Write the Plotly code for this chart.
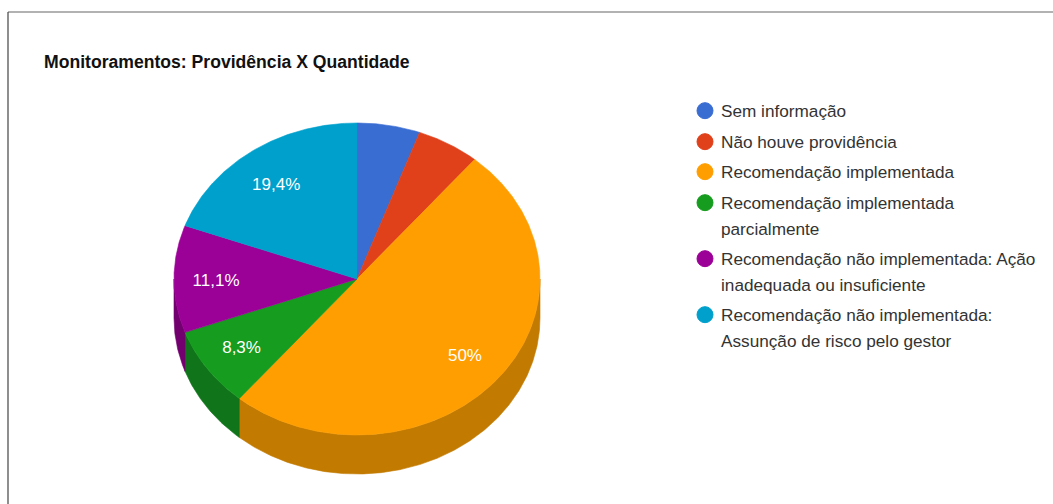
import math
import plotly.graph_objects as go

# --- data ---
categories = [
    "Sem informação",
    "Não houve providência",
    "Recomendação implementada",
    "Recomendação implementada",
    "Recomendação não implementada: Ação",
    "Recomendação não implementada:",
]
category_wraps = ["", "", "", "parcialmente", "inadequada ou insuficiente", "Assunção de risco pelo gestor"]
values = [2, 2, 18, 3, 4, 7]
face_colors = ["#3a6dd2", "#e0401a", "#ff9e00", "#169c1e", "#9b0097", "#00a0cc"]
side_colors = ["#2a4f98", "#a22e12", "#c27a00", "#10751a", "#72006e", "#007494"]
title_text = "Monitoramentos: Providência X Quantidade"

# --- layout of the 3D pie (pixels of the 1053x504 page) ---
W, H = 1053, 504
CX, CY, RX, RY, DEPTH = 357, 279, 183, 156, 39
LABEL_FX, LABEL_FY, LABEL_DY = 0.77, 0.75, 3
MIN_LABEL_SHARE = 0.06
LEGEND_TOPS = [93, 124, 154, 185, 241, 297]
LEGEND_ROW_CENTRE = 18
LEGEND_WRAP_GAP = 26
LEGEND_X = 681
LEGEND_TEXT_X = 720
FONT = "Liberation Sans, Arial, sans-serif"
LEGEND_FONT = dict(family=FONT, size=17.2, color="#333333")

total = sum(values)


def point(deg, dy=0.0):
    a = math.radians(deg)
    return CX + RX * math.sin(a), CY - RY * math.cos(a) + dy


def arc(a0, a1, dy=0.0):
    n = max(2, int(abs(a1 - a0) * 2) + 1)
    return [point(a0 + (a1 - a0) * i / (n - 1), dy) for i in range(n)]


fig = go.Figure()
spans = []
acc = 0.0
for v in values:
    spans.append((acc / total * 360, (acc + v) / total * 360))
    acc += v

# sides (only the front half of the cylinder is visible)
for (a0, a1), col in zip(spans, side_colors):
    lo, hi = max(a0, 90), min(a1, 270)
    if lo >= hi:
        continue
    pts = arc(lo, hi) + arc(hi, lo, DEPTH)
    pts.append(pts[0])
    fig.add_trace(go.Scatter(x=[p[0] for p in pts], y=[p[1] for p in pts], mode="lines",
                             fill="toself", fillcolor=col, line=dict(color=col, width=0.6),
                             showlegend=False, hoverinfo="skip"))

# top faces
for (a0, a1), col, name, wrap in zip(spans, face_colors, categories, category_wraps):
    pts = [(CX, CY)] + arc(a0, a1) + [(CX, CY)]
    fig.add_trace(go.Scatter(x=[p[0] for p in pts], y=[p[1] for p in pts], mode="lines",
                             fill="toself", fillcolor=col, line=dict(color=col, width=0.6),
                             showlegend=False, name=f"{name} {wrap}".strip(), hoverinfo="name"))

# percentage labels
lx, ly, lt = [], [], []
for (a0, a1), v in zip(spans, values):
    share = v / total
    if share < MIN_LABEL_SHARE:
        continue
    mid = math.radians((a0 + a1) / 2)
    lx.append(CX + LABEL_FX * RX * math.sin(mid))
    ly.append(CY + LABEL_DY - LABEL_FY * RY * math.cos(mid))
    s = f"{100 * share:.1f}"
    s = s[:-2] if s.endswith(".0") else s
    lt.append(s.replace(".", ",") + "%")
fig.add_trace(go.Scatter(x=lx, y=ly, text=lt, mode="text", showlegend=False, hoverinfo="skip",
                         textposition="middle center",
                         textfont=dict(family=FONT, size=17, color="white")))

# legend: one real legend box per entry, so each can sit on its own row;
# the wrapped second line is set as text under the entry, level with the marker's first line
layout_legends = {}
wrap_notes = []
for i, (name, wrap, col, top) in enumerate(zip(categories, category_wraps, face_colors, LEGEND_TOPS)):
    key = "legend" if i == 0 else f"legend{i + 1}"
    fig.add_trace(go.Scatter(x=[None], y=[None], mode="markers", name=name, legend=key,
                             marker=dict(color=col, size=16, symbol="circle",
                                         line=dict(color=col, width=1))))
    layout_legends[key] = dict(x=LEGEND_X / W, y=1 - top / H, xanchor="left", yanchor="top",
                               bgcolor="rgba(0,0,0,0)", borderwidth=0,
                               font=LEGEND_FONT)
    if wrap:
        wrap_notes.append(dict(text=wrap, xref="paper", yref="paper", x=LEGEND_TEXT_X / W,
                               y=1 - (top + LEGEND_ROW_CENTRE + LEGEND_WRAP_GAP) / H,
                               xanchor="left", yanchor="middle", showarrow=False,
                               borderpad=0, font=LEGEND_FONT))

fig.update_layout(
    width=W, height=H, margin=dict(l=0, r=0, t=0, b=0),
    paper_bgcolor="white", plot_bgcolor="white",
    xaxis=dict(range=[0, W], visible=False, fixedrange=True),
    yaxis=dict(range=[H, 0], visible=False, fixedrange=True),
    title=dict(text=f"<b>{title_text}</b>", x=44 / W, y=1 - 62 / H, xanchor="left", yanchor="middle",
               xref="paper", yref="paper",
               font=dict(family=FONT, size=17.6, color="#111111")),
    annotations=wrap_notes,
    shapes=[
        dict(type="line", xref="paper", yref="paper", x0=8 / W, x1=1, y0=1 - 12 / H, y1=1 - 12 / H,
             line=dict(color="#666666", width=1.2)),
        dict(type="line", xref="paper", yref="paper", x0=8 / W, x1=8 / W, y0=0, y1=1 - 12 / H,
             line=dict(color="#444444", width=1.2)),
    ],
    **layout_legends,
)

post = """
document.body.style.margin='0';document.body.style.overflow='hidden';
// legend text sits 20px from the symbol by default; the reference uses 16px
function nudge(){document.querySelectorAll('.legendtext').forEach(function(t){
  t.setAttribute('transform','translate(0,0)');});
  document.querySelectorAll('.legendpoints').forEach(function(g){
    var old=g.getAttribute('transform')||'';
    if(!g.dataset.done){g.setAttribute('transform','translate(4,0) '+old);g.dataset.done='1';}
  });}
setTimeout(nudge,50);
"""
fig.write_html("out.html", config={"displayModeBar": False}, post_script=post)
